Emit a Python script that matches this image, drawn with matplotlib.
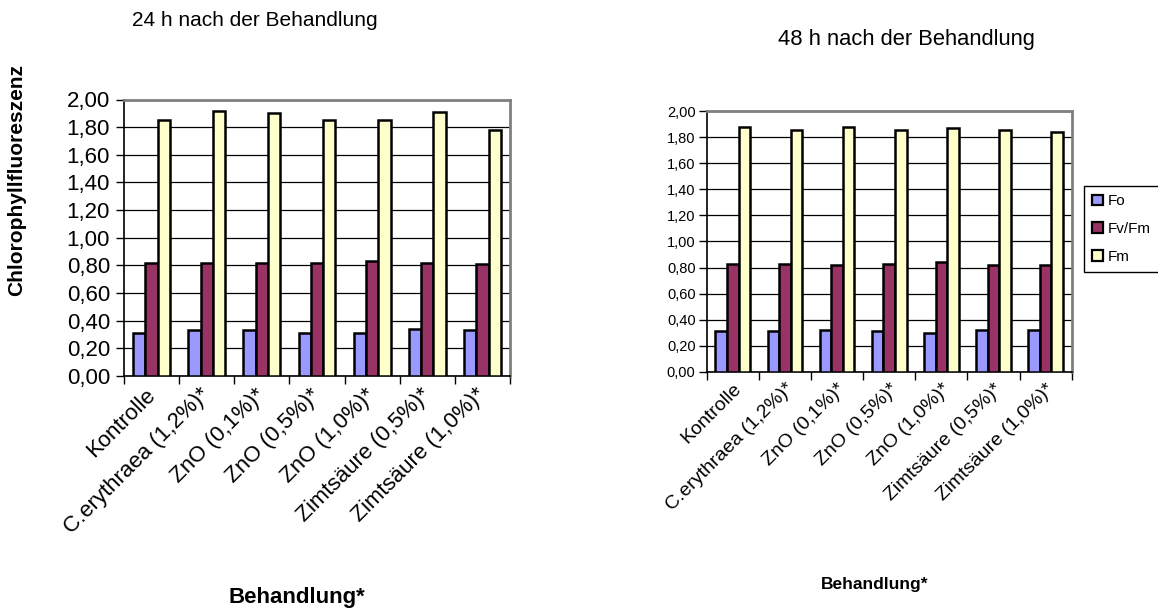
import numpy as np
import matplotlib
matplotlib.use('Agg')
from matplotlib import pyplot as plt
from matplotlib.patches import Patch
from matplotlib.transforms import ScaledTranslation

plt.rcParams['font.family'] = ['Liberation Sans', 'DejaVu Sans']

behandlung = ['Kontrolle', 'C.erythraea (1,2%)*', 'ZnO (0,1%)*', 'ZnO (0,5%)*',
              'ZnO (1,0%)*', 'Zimtsäure (0,5%)*', 'Zimtsäure (1,0%)*']
serien = ['Fo', 'Fv/Fm', 'Fm']
farben = ['#9999FF', '#993366', '#FFFFCC']

fo_24 = [0.31, 0.33, 0.33, 0.31, 0.31, 0.34, 0.33]
fvfm_24 = [0.82, 0.82, 0.82, 0.82, 0.83, 0.82, 0.81]
fm_24 = [1.85, 1.92, 1.90, 1.85, 1.85, 1.91, 1.78]

fo_48 = [0.31, 0.31, 0.32, 0.31, 0.30, 0.32, 0.32]
fvfm_48 = [0.83, 0.83, 0.82, 0.83, 0.84, 0.82, 0.82]
fm_48 = [1.88, 1.86, 1.88, 1.86, 1.87, 1.86, 1.84]

yticks = np.arange(0, 2.01, 0.2)


def zeichne(fig, ax, werte, fs_y, fs_x, ypad, xpad, dx):
    x = np.arange(len(behandlung))
    w = 1 / 4.5
    for i, (v, c) in enumerate(zip(werte, farben)):
        ax.bar(x + (i - 1) * w, v, w, color=c, edgecolor='black', linewidth=1.8,
               zorder=3, label=serien[i])
    ax.set_xlim(-0.5, len(behandlung) - 0.5)
    ax.set_ylim(0, 2.0)
    ax.set_yticks(yticks)
    ax.set_yticklabels([f'{t:.2f}'.replace('.', ',') for t in yticks], fontsize=fs_y)
    ax.yaxis.grid(True, color='black', linewidth=0.9, zorder=0)
    ax.set_xticks(np.arange(-0.5, len(behandlung)), labels=[])
    ax.set_xticks(x, labels=behandlung, minor=True)
    ax.tick_params(axis='x', which='minor', length=0, pad=xpad)
    ax.tick_params(axis='x', which='major', length=6, width=1)
    ax.tick_params(axis='y', length=6, width=1, pad=ypad)
    versatz = ScaledTranslation(dx / 100, 0, fig.dpi_scale_trans)
    for lab in ax.get_xticklabels(minor=True):
        lab.set_rotation(45)
        lab.set_ha('right')
        lab.set_va('top')
        lab.set_rotation_mode('anchor')
        lab.set_fontsize(fs_x)
        lab.set_transform(lab.get_transform() + versatz)
    ax.spines['left'].set_color('black')
    ax.spines['bottom'].set_color('black')
    ax.spines['left'].set_linewidth(1.2)
    ax.spines['bottom'].set_linewidth(1.2)
    ax.spines['top'].set_color('#808080')
    ax.spines['right'].set_color('#808080')
    ax.spines['top'].set_linewidth(2)
    ax.spines['right'].set_linewidth(2)


fig = plt.figure(figsize=(11.58, 6.12), dpi=100)

ax1 = fig.add_axes([124 / 1158, 1 - 376 / 612, 386 / 1158, 276.5 / 612])
zeichne(fig, ax1, [fo_24, fvfm_24, fm_24], 16, 16, 4, 6, -7)

ax2 = fig.add_axes([706.7 / 1158, 1 - 371.7 / 612, 365 / 1158, 260.4 / 612])
zeichne(fig, ax2, [fo_48, fvfm_48, fm_48], 10.5, 14, 2, 6, 0)

fig.text(255 / 1158, 1 - 20 / 612, '24 h nach der Behandlung', fontsize=15,
         ha='center', va='center')
fig.text(906 / 1158, 1 - 40 / 612, '48 h nach der Behandlung', fontsize=15.8,
         ha='center', va='center')
fig.text(17 / 1158, 1 - 180 / 612, 'Chlorophyllfluoreszenz', fontsize=15,
         fontweight='bold', rotation=90, ha='center', va='center')
fig.text(297 / 1158, 1 - 598 / 612, 'Behandlung*', fontsize=16,
         fontweight='bold', ha='center', va='center')
fig.text(875 / 1158, 1 - 585 / 612, 'Behandlung*', fontsize=12.5,
         fontweight='bold', ha='center', va='center')

handles = [Patch(facecolor=c, edgecolor='black', linewidth=1.6) for c in farben]
leg = fig.legend(handles, serien, loc='upper left',
                 bbox_to_anchor=(1084 / 1158, 1 - 186 / 612), fontsize=11,
                 frameon=True, fancybox=False, edgecolor='black', framealpha=1,
                 handlelength=0.7, handleheight=0.7, handletextpad=0.3,
                 labelspacing=0.9, borderpad=0.55, borderaxespad=0)
leg.get_frame().set_linewidth(1)

fig.savefig('out.png', dpi=100)
